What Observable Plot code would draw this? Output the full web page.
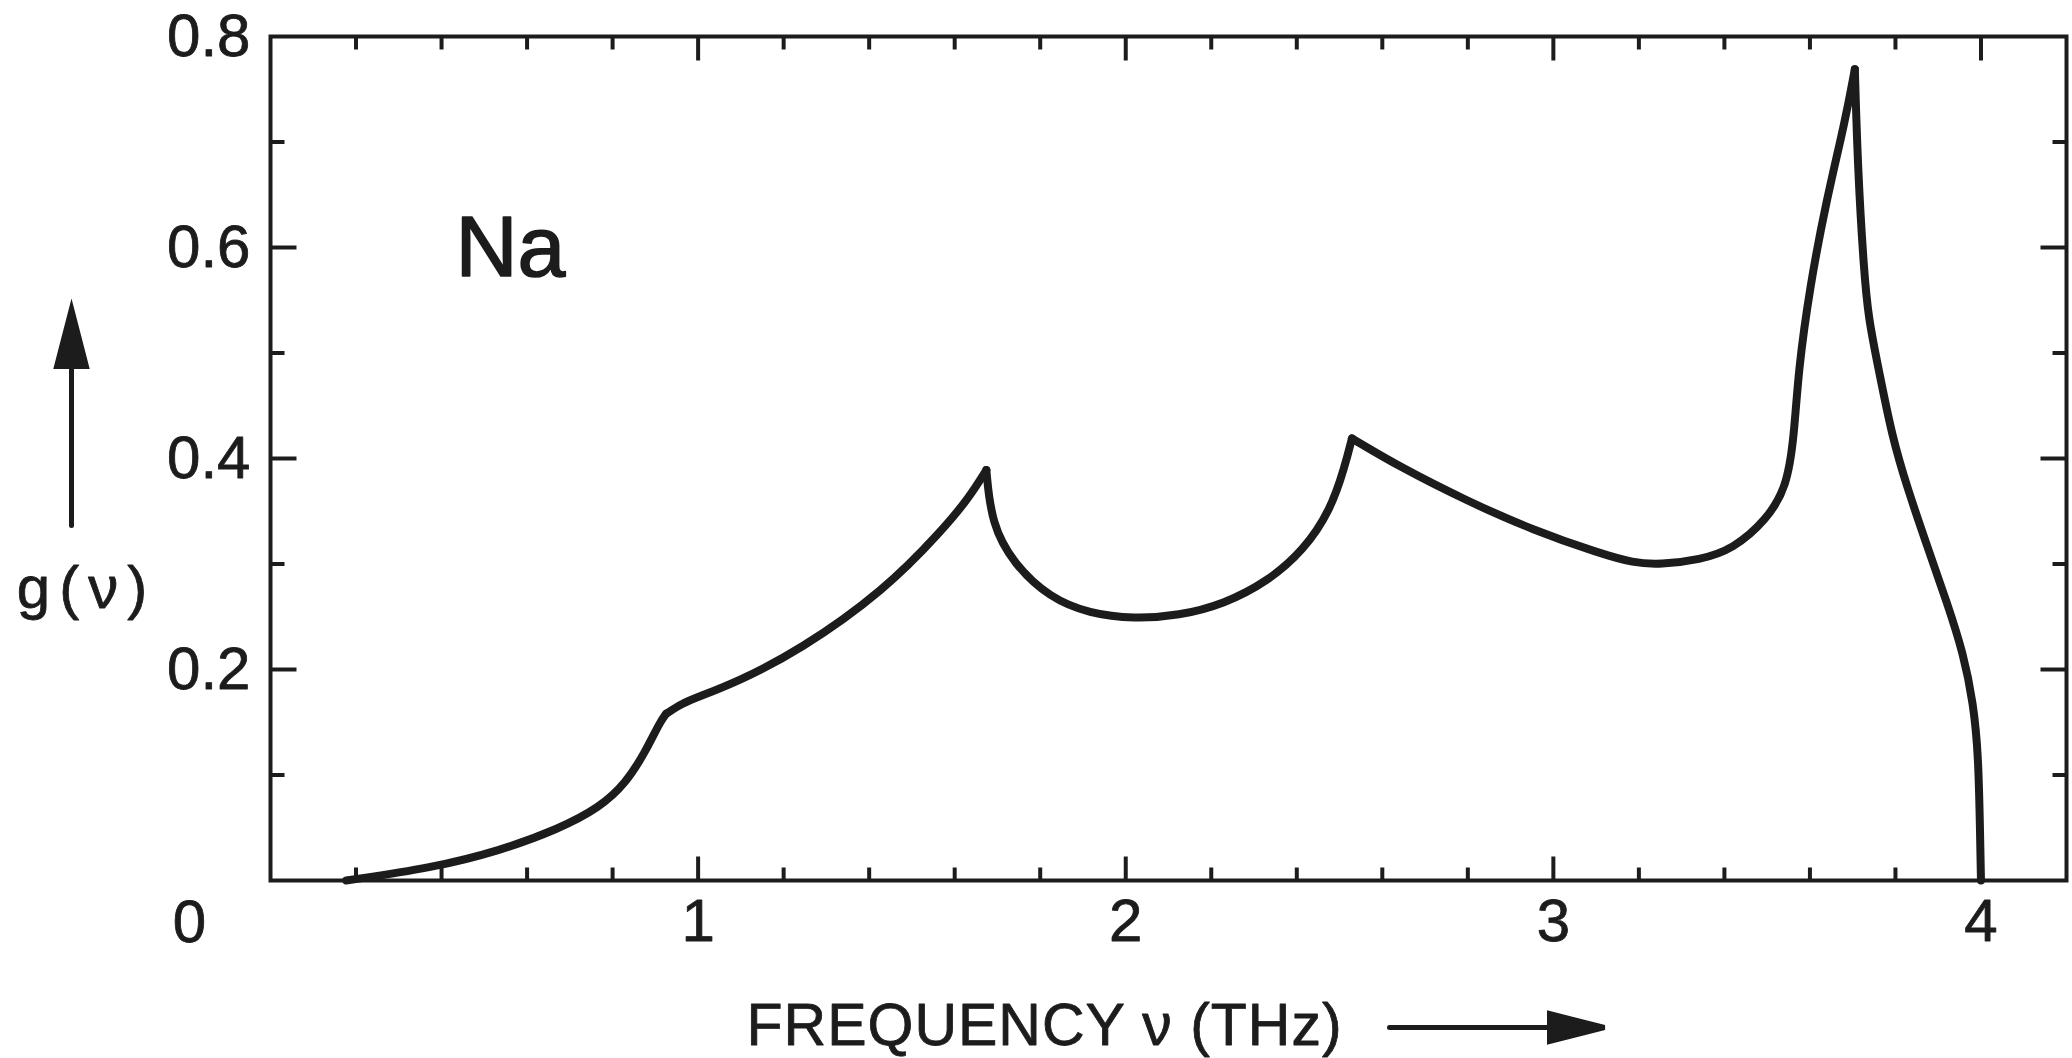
<!DOCTYPE html>
<html>
<head>
<meta charset="utf-8">
<script src="https://cdn.jsdelivr.net/npm/d3@7"></script>
<script src="https://cdn.jsdelivr.net/npm/@observablehq/plot@0.6"></script>
<style>
  html, body { margin: 0; padding: 0; background: #fff; }
  #chart { width: 2072px; height: 1058px; overflow: hidden; }
</style>
</head>
<body>
<div id="chart"></div>
<script>
// Phonon density of states g(ν) of sodium.
const freq = [0.177, 0.378, 0.535, 0.675, 0.769, 0.831, 0.878, 0.909, 0.925, 0.963, 1.0, 1.09,
  1.237, 1.436, 1.571, 1.634, 1.674, 1.686, 1.738, 1.822, 1.915, 2.02, 2.124, 2.23, 2.334,
  2.416, 2.479, 2.512, 2.529, 2.641, 2.797, 2.953, 3.109, 3.187, 3.25, 3.343, 3.42, 3.499,
  3.546, 3.563, 3.573, 3.60, 3.637, 3.683, 3.705, 3.712, 3.726, 3.737, 3.761, 3.792, 3.827,
  3.874, 3.921, 3.959, 3.982, 3.994, 3.998, 4.0];
const dos = [0.0, 0.012, 0.028, 0.049, 0.069, 0.092, 0.123, 0.149, 0.158, 0.168, 0.174, 0.188,
  0.218, 0.275, 0.332, 0.363, 0.389, 0.338, 0.300, 0.268, 0.253, 0.248, 0.251, 0.262, 0.284,
  0.313, 0.351, 0.392, 0.419, 0.392, 0.360, 0.332, 0.310, 0.301, 0.2995, 0.304, 0.314, 0.342,
  0.373, 0.421, 0.484, 0.563, 0.642, 0.721, 0.769, 0.674, 0.579, 0.532, 0.484, 0.421, 0.373,
  0.317, 0.263, 0.215, 0.168, 0.120, 0.042, 0.0];
// Van Hove singularities: the curve has a kink at each of these frequencies
const kinks = [0.925, 1.674, 2.529, 3.705];

const xMajor = [1, 2, 3, 4];
const xMajorLabels = ["1", "2", "3", "4"];
const xMinor = [0.2, 0.4, 0.6, 0.8, 1.2, 1.4, 1.6, 1.8, 2.2, 2.4, 2.6, 2.8, 3.2, 3.4, 3.6, 3.8];
const yMajor = [0.2, 0.4, 0.6];
const yLabelValues = [0.2, 0.4, 0.6, 0.8];
const yLabels = ["0.2", "0.4", "0.6", "0.8"];
const yMinor = [0.1, 0.3, 0.5, 0.7];

// Split the curve into smooth pieces between kinks (kink points shared by both neighbours)
const rows = [];
freq.forEach((f, i) => {
  const seg = kinks.filter(k => f > k).length;
  rows.push({f, g: dos[i], seg});
  if (kinks.includes(f)) rows.push({f, g: dos[i], seg: seg + 1});
});

const ink = "#1c1c1c";
const font = "Liberation Sans, Arial, sans-serif";
const lineShape = {draw(c, l) { c.moveTo(0, 0); c.lineTo(0, -l); }};
const arrowShape = (head, half) => ({
  draw(c, l) {
    c.moveTo(0, 0); c.lineTo(0, -(l - head));
    c.moveTo(0, -l); c.lineTo(half, -(l - head)); c.lineTo(-half, -(l - head)); c.closePath();
  }
});
const tickOpts = {anchor: "start", shape: lineShape, stroke: ink, strokeWidth: 4, strokeLinecap: "butt"};
const textOpts = {textAnchor: "middle", lineAnchor: "middle", fill: ink, stroke: ink, strokeWidth: 0.8};

const chart = Plot.plot({
  width: 2072,
  height: 1058,
  marginLeft: 270,
  marginRight: 6,
  marginTop: 36,
  marginBottom: 178,
  x: {domain: [0, 4.2], axis: null},
  y: {domain: [0, 0.8], axis: null},
  style: {background: "#fff", color: ink, fontFamily: font, fontSize: "60px"},
  marks: [
    Plot.frame({stroke: ink, strokeWidth: 4}),
    // inward ticks on all four sides
    Plot.vector(xMajor, {x: d => d, frameAnchor: "bottom", rotate: 0, length: 24, ...tickOpts}),
    Plot.vector(xMinor, {x: d => d, frameAnchor: "bottom", rotate: 0, length: 13, ...tickOpts}),
    Plot.vector(xMajor, {x: d => d, frameAnchor: "top", rotate: 180, length: 24, ...tickOpts}),
    Plot.vector(xMinor, {x: d => d, frameAnchor: "top", rotate: 180, length: 13, ...tickOpts}),
    Plot.vector(yMajor, {y: d => d, frameAnchor: "left", rotate: 90, length: 26, ...tickOpts}),
    Plot.vector(yMinor, {y: d => d, frameAnchor: "left", rotate: 90, length: 14, ...tickOpts}),
    Plot.vector(yMajor, {y: d => d, frameAnchor: "right", rotate: -90, length: 26, ...tickOpts}),
    Plot.vector(yMinor, {y: d => d, frameAnchor: "right", rotate: -90, length: 14, ...tickOpts}),
    // tick labels
    Plot.text(yLabelValues, {y: d => d, text: (d, i) => yLabels[i], frameAnchor: "left", dx: -20,
      fontSize: 60, ...textOpts, textAnchor: "end"}),
    Plot.text(xMajor, {x: d => d, text: (d, i) => xMajorLabels[i], frameAnchor: "bottom", dy: 41,
      fontSize: 60, ...textOpts}),
    Plot.text(["0"], {frameAnchor: "bottom-left", dx: -81, dy: 42, fontSize: 60, ...textOpts}),
    // density of states
    Plot.line(rows, {x: "f", y: "g", z: "seg", curve: "basis", stroke: ink, strokeWidth: 8,
      strokeLinejoin: "round", strokeLinecap: "round"}),
    // element label
    Plot.text(["Na"], {frameAnchor: "top-left", dx: 185, dy: 212, fontSize: 86, ...textOpts,
      textAnchor: "start", strokeWidth: 1.6}),
    // axis titles with arrows
    Plot.text(["g(ν)"], {frameAnchor: "left", dx: -184, dy: 130, fontSize: 60, ...textOpts}),
    Plot.vector([0], {frameAnchor: "left", dx: -199, dy: 67, rotate: 0, length: 217, anchor: "start",
      shape: arrowShape(58, 15), stroke: ink, fill: ink, strokeWidth: 5, strokeLinejoin: "miter"}),
    Plot.text(["FREQUENCY ν (THz)"], {frameAnchor: "bottom", dx: -422, dy: 146, fontSize: 59,
      ...textOpts, textAnchor: "start"}),
    Plot.vector([0], {frameAnchor: "bottom", dx: 221, dy: 147, rotate: 90, length: 215, anchor: "start",
      shape: arrowShape(55, 14), stroke: ink, fill: ink, strokeWidth: 5, strokeLinejoin: "miter"})
  ]
});

// the axis titles are letter-spaced like stencil lettering
d3.select(chart).selectAll("text").each(function () {
  const t = this.textContent;
  if (t === "g(ν)") this.setAttribute("letter-spacing", "9");
  if (t === "FREQUENCY ν (THz)") this.setAttribute("letter-spacing", "1");
});

document.getElementById("chart").appendChild(chart);
</script>
</body>
</html>
